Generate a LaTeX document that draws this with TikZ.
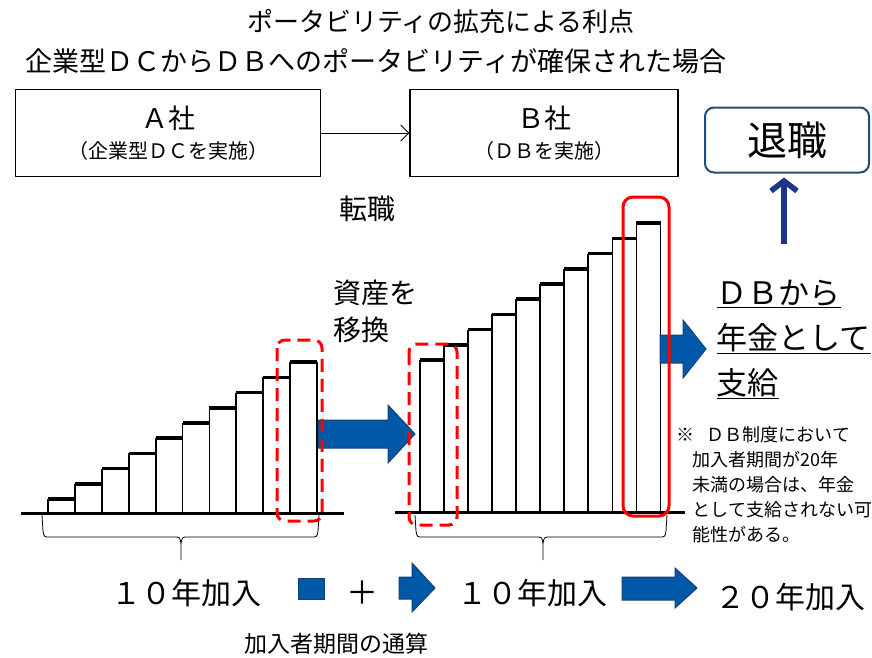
\documentclass[tikz,border=0pt]{standalone}
\usepackage{fontspec}
\setmainfont{Noto Sans CJK JP}
\usetikzlibrary{arrows.meta}
\definecolor{arrowblue}{RGB}{0,88,168}
\definecolor{arrowedge}{RGB}{22,62,122}
\definecolor{retireblue}{RGB}{31,78,121}
\definecolor{navyline}{RGB}{28,52,138}
\definecolor{markred}{RGB}{255,0,0}

\begin{document}
\begin{tikzpicture}[x=1pt, y=-1pt,
    title/.style={font=\fontsize{26}{30}\selectfont},
    company/.style={draw, line width=1.3pt, minimum width=305pt, minimum height=87pt,
                    align=center, font=\fontsize{20}{30}\selectfont},
    bigtext/.style={font=\fontsize{28}{37}\selectfont, align=left},
    yeartext/.style={font=\fontsize{30}{34}\selectfont},
    notetext/.style={font=\fontsize{18}{25}\selectfont, align=left},
    blockarrow/.style={fill=arrowblue, draw=arrowedge, line width=1pt, line join=miter},
    barside/.style={line width=1.8pt},
    bartop/.style={line width=3.5pt},
    baseline/.style={line width=3pt},
    transfer/.style={draw=markred, line width=3pt, dash pattern=on 13pt off 7pt, rounded corners=8pt},
    payout/.style={draw=markred, line width=3pt, rounded corners=10pt},
    span/.style={line width=0.8pt}]
    \useasboundingbox (0,0) rectangle (872,657);

    % Title
    \node[title] (title1) at (441,22) {ポータビリティの拡充による利点};
    \node[title, font=\fontsize{27}{30}\selectfont] (title2) at (376,61) {企業型ＤＣからＤＢへのポータビリティが確保された場合};

    % Companies and retirement
    \node[company] (compA) at (168,133) {{\fontsize{27}{30}\selectfont Ａ社}\\（企業型ＤＣを実施）};
    \node[company, minimum width=268pt] (compB) at (544,133) {{\fontsize{27}{30}\selectfont Ｂ社}\\（ＤＢを実施）};
    \draw[line width=0.9pt, -{Straight Barb[length=8pt, width=16pt]}] (compA) -- (compB);
    \node[draw=retireblue, line width=2pt, rounded corners=9pt, minimum width=164pt, minimum height=65pt,
          font=\fontsize{40}{44}\selectfont] (retire) at (787,140) {退職};
    \coordinate (retireFoot) at (784,244);
    \draw[navyline, line width=5.5pt, -{Straight Barb[length=10pt, width=26pt]}] (retireFoot) -- ([yshift=-4pt]retire.south -| retireFoot);

    % Labels
    \node[bigtext] (change) at (367,209) {転職};
    \node[bigtext, anchor=west] (move) at (330,311) {資産を\\移換};
    \node[font=\fontsize{31}{45}\selectfont, align=left, anchor=north west] (paid) at (713,276)
        {\underline{ＤＢから}\\\underline{年金として}\\\underline{支給}};
    \node[notetext, anchor=north west] (note) at (673,423)
        {※\hspace{12pt}ＤＢ制度において\\
         \hspace*{16pt}加入者期間が20年\\
         \hspace*{16pt}未満の場合は、年金\\
         \hspace*{16pt}として支給されない可\\
         \hspace*{16pt}能性がある。};

    % A company bars
    \foreach \i in {0,...,9} {
        \pgfmathsetmacro{\xa}{48+26.9*\i}
        \pgfmathsetmacro{\xb}{48+26.9*(\i+1)}
        \pgfmathsetmacro{\yt}{513-14-15.2*\i}
        \draw[barside] (\xa,513) -- (\xa,\yt) (\xb,\yt) -- (\xb,513);
        \draw[bartop] (\xa,\yt) -- (\xb,\yt);
    }
    \draw[baseline] (21,513) -- (344,513);

    % B company bars
    \foreach \i in {0,...,9} {
        \pgfmathsetmacro{\xa}{420+24.05*\i}
        \pgfmathsetmacro{\xb}{420+24.05*(\i+1)}
        \pgfmathsetmacro{\yt}{512-152-15.2*\i}
        \draw[barside] (\xa,512) -- (\xa,\yt) (\xb,\yt) -- (\xb,512);
        \draw[bartop] (\xa,\yt) -- (\xb,\yt);
    }
    \draw[baseline] (395,512) -- (685,512);

    % Braces
    \draw[span] (42,515) -- (43,531) .. controls (44,537) .. (50,537) -- (174,537)
        .. controls (180,537) .. (181,544) -- (181,560) -- (181,544) .. controls (182,537) .. (188,537)
        -- (311,537) .. controls (317,537) .. (318,531) -- (319,515);
    \draw[span] (415,515) -- (416,531) .. controls (417,537) .. (423,537) -- (536,537)
        .. controls (542,537) .. (543,544) -- (543,560) -- (543,544) .. controls (544,537) .. (550,537)
        -- (659,537) .. controls (665,537) .. (666,531) -- (667,515);

    % Block arrows
    \filldraw[blockarrow] (318,420) -- (388,420) -- (388,405) -- (415,434) -- (388,463) -- (388,448) -- (318,448) -- cycle;
    \filldraw[blockarrow] (660,335) -- (683,335) -- (683,320) -- (706,349) -- (683,378) -- (683,363) -- (660,363) -- cycle;

    % Marks
    \draw[transfer] (277,340) rectangle (322,521);
    \draw[transfer] (409,344) rectangle (457,525);
    \draw[payout] (623,197) rectangle (669,516);

    % Period sum
    \node[yeartext] (termA) at (186,593) {１０年加入};
    \filldraw[blockarrow] (298,578) rectangle (324,599);
    \node[font=\fontsize{32}{34}\selectfont] (plus) at (362,593) {＋};
    \filldraw[blockarrow] (399,577) -- (412,577) -- (412,563) -- (435,588) -- (412,612) -- (412,599) -- (399,599) -- cycle;
    \node[yeartext] (termB) at (532,593) {１０年加入};
    \filldraw[blockarrow] (622,577) -- (675,577) -- (675,568) -- (697,588) -- (675,608) -- (675,600) -- (622,600) -- cycle;
    \node[yeartext] (termC) at (790,597) {２０年加入};
    \node[font=\fontsize{23}{26}\selectfont] (sum) at (336,644) {加入者期間の通算};
\end{tikzpicture}
\end{document}
